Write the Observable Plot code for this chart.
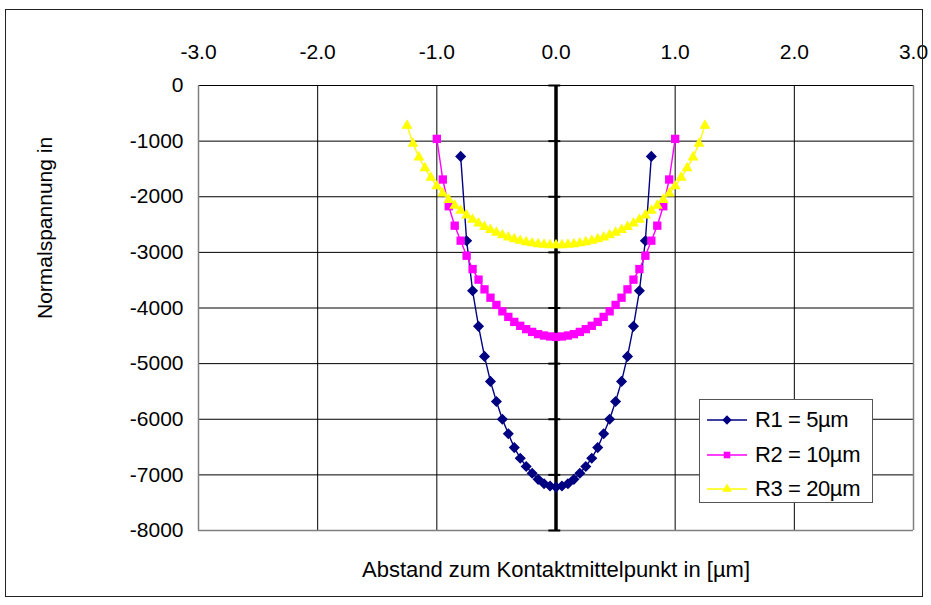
<!DOCTYPE html>
<html>
<head>
<meta charset="utf-8">
<script src="https://cdn.jsdelivr.net/npm/d3@7"></script>
<script src="https://cdn.jsdelivr.net/npm/@observablehq/plot@0.6"></script>
<style>
  body { margin: 0; background: #fff; }
  #wrap { position: relative; width: 931px; height: 605px; font-family: "Liberation Sans", Arial, sans-serif; }
  #frame { position: absolute; left: 5px; top: 9px; width: 918px; height: 588px; border: 1.5px solid #222; box-sizing: border-box; pointer-events: none; }
  #legend { position: absolute; left: 699px; top: 399px; width: 174px; height: 104px; border: 1px solid #555; background: #fff; box-sizing: border-box; }
  .entry { position: absolute; left: 7px; height: 30px; display: flex; align-items: center; font-size: 22px; color: #000; letter-spacing: -0.4px; white-space: nowrap; }
  .entry svg { margin-right: 6px; }
</style>
</head>
<body>
<div id="wrap">
  <div id="chart"></div>
  <div id="legend"></div>
  <div id="frame"></div>
</div>
<script>
// ---- data ----
const xTicks = [-3, -2, -1, 0, 1, 2, 3];
const yTicks = [0, -1000, -2000, -3000, -4000, -5000, -6000, -7000, -8000];

const seriesNames = ["R1 = 5µm", "R2 = 10µm", "R3 = 20µm"];
const seriesColors = ["#000080", "#FF00FF", "#FFFF00"];
const seriesSymbols = ["diamond2", "square2", "triangle2"];

const r1X = [-0.80, -0.75, -0.70, -0.65, -0.60, -0.55, -0.50, -0.45, -0.40, -0.35, -0.30, -0.25, -0.20, -0.15, -0.10, -0.05, 0.00,
             0.05, 0.10, 0.15, 0.20, 0.25, 0.30, 0.35, 0.40, 0.45, 0.50, 0.55, 0.60, 0.65, 0.70, 0.75, 0.80];
const r1Y = [-1275, -2790, -3690, -4330, -4870, -5320, -5680, -6000, -6260, -6510, -6700, -6850, -6970, -7080, -7160, -7200, -7220,
             -7200, -7160, -7080, -6970, -6850, -6700, -6510, -6260, -6000, -5680, -5320, -4870, -4330, -3690, -2790, -1275];

const r2X = [-1.00, -0.95, -0.90, -0.85, -0.80, -0.75, -0.70, -0.65, -0.60, -0.55, -0.50, -0.45, -0.40, -0.35, -0.30, -0.25, -0.20, -0.15, -0.10, -0.05, 0.00,
             0.05, 0.10, 0.15, 0.20, 0.25, 0.30, 0.35, 0.40, 0.45, 0.50, 0.55, 0.60, 0.65, 0.70, 0.75, 0.80, 0.85, 0.90, 0.95, 1.00];
const r2Y = [-960, -1690, -2170, -2520, -2790, -3060, -3300, -3490, -3665, -3815, -3945, -4060, -4160, -4250, -4320, -4380, -4430, -4470, -4495, -4512, -4520,
             -4512, -4495, -4470, -4430, -4380, -4320, -4250, -4160, -4060, -3945, -3815, -3665, -3490, -3300, -3060, -2790, -2520, -2170, -1690, -960];

const r3X = [-1.25, -1.20, -1.15, -1.10, -1.05, -1.00, -0.95, -0.90, -0.85, -0.80, -0.75, -0.70, -0.65, -0.60, -0.55, -0.50, -0.45, -0.40, -0.35, -0.30, -0.25, -0.20, -0.15, -0.10, -0.05, 0.00,
             0.05, 0.10, 0.15, 0.20, 0.25, 0.30, 0.35, 0.40, 0.45, 0.50, 0.55, 0.60, 0.65, 0.70, 0.75, 0.80, 0.85, 0.90, 0.95, 1.00, 1.05, 1.10, 1.15, 1.20, 1.25];
const r3Y = [-720, -1045, -1290, -1485, -1655, -1810, -1940, -2055, -2160, -2250, -2335, -2410, -2478, -2540, -2595, -2645, -2690, -2728, -2762, -2790, -2815, -2835, -2850, -2860, -2868, -2870,
             -2868, -2860, -2850, -2835, -2815, -2790, -2762, -2728, -2690, -2645, -2595, -2540, -2478, -2410, -2335, -2250, -2160, -2055, -1940, -1810, -1655, -1485, -1290, -1045, -720];

const xTitle = "Abstand zum Kontaktmittelpunkt in [µm]";
const yTitle = "Normalspannung in";

// ---- build table ----
const seriesX = [r1X, r2X, r3X];
const seriesY = [r1Y, r2Y, r3Y];
const data = [];
seriesNames.forEach((name, i) => {
  seriesX[i].forEach((x, j) => data.push({series: name, x, y: seriesY[i][j]}));
});
const dataOf = name => data.filter(d => d.series === name);

const font = "Liberation Sans, Arial, sans-serif";
const markR = [5, 5.3, 5.2];
const legendR = [4.2, 4.2, 4.6];

const marks = [
  Plot.gridY(yTicks.filter(v => v !== -8000), {stroke: "#000", strokeOpacity: 1, strokeWidth: 1}),
  Plot.gridX(xTicks.filter(v => v !== 0 && Math.abs(v) !== 3), {stroke: "#000", strokeOpacity: 1, strokeWidth: 1}),
  Plot.ruleX([-3, 3], {stroke: "#808080", strokeWidth: 1.5}),
  Plot.ruleY([-8000], {stroke: "#808080", strokeWidth: 1.5}),
  Plot.axisX(xTicks, {anchor: "top", tickSize: 0, tickPadding: 27, tickFormat: d => d.toFixed(1), fontSize: 21, fill: "#000", label: null}),
  Plot.axisY(yTicks, {anchor: "left", tickSize: 0, tickPadding: 15, tickFormat: d => String(d), fontSize: 21, fill: "#000", label: null}),
  Plot.ruleX([0], {stroke: "#000", strokeWidth: 3.5}),
  Plot.ruleY(yTicks, {x1: -0.06, x2: 0.04, stroke: "#000", strokeWidth: 2}),
];

seriesNames.forEach((name, i) => {
  marks.push(Plot.line(dataOf(name), {x: "x", y: "y", stroke: seriesColors[i], strokeWidth: 1.4}));
});
seriesNames.forEach((name, i) => {
  marks.push(Plot.dot(dataOf(name), {x: "x", y: "y", symbol: () => seriesSymbols[i], fill: seriesColors[i], stroke: "none", r: markR[i]}));
});

marks.push(Plot.text([xTitle], {frameAnchor: "bottom", dy: 46, fontSize: 22, letterSpacing: "-0.3px", fill: "#000", fontFamily: font, text: d => d}));
marks.push(Plot.text([yTitle], {frameAnchor: "left", dx: -153, dy: 11, rotate: -90, fontSize: 21, fill: "#000", fontFamily: font, text: d => d}));

const chart = Plot.plot({
  width: 931,
  height: 605,
  marginLeft: 198,
  marginRight: 18,
  marginTop: 85,
  marginBottom: 75,
  style: {fontFamily: font, background: "transparent", overflow: "visible"},
  x: {domain: [-3, 3]},
  y: {domain: [-8000, 0]},
  marks
});
document.getElementById("chart").appendChild(chart);

// legend (HTML overlay)
const legend = document.getElementById("legend");
const symbolTypes = {diamond2: d3.symbolDiamond2, square2: d3.symbolSquare2, triangle2: d3.symbolTriangle2};
seriesNames.forEach((name, i) => {
  const e = document.createElement("div");
  e.className = "entry";
  e.style.top = (5 + i * 34.5) + "px";
  const sym = d3.symbol(symbolTypes[seriesSymbols[i]], Math.PI * legendR[i] * legendR[i])();
  e.innerHTML = `<svg width="42" height="20" viewBox="0 -10 42 20"><line x1="0" x2="40" y1="0" y2="0" stroke="${seriesColors[i]}" stroke-width="1.4"/><path d="${sym}" transform="translate(20,0)" fill="${seriesColors[i]}"/></svg><span>${name}</span>`;
  legend.appendChild(e);
});
</script>
</body>
</html>
